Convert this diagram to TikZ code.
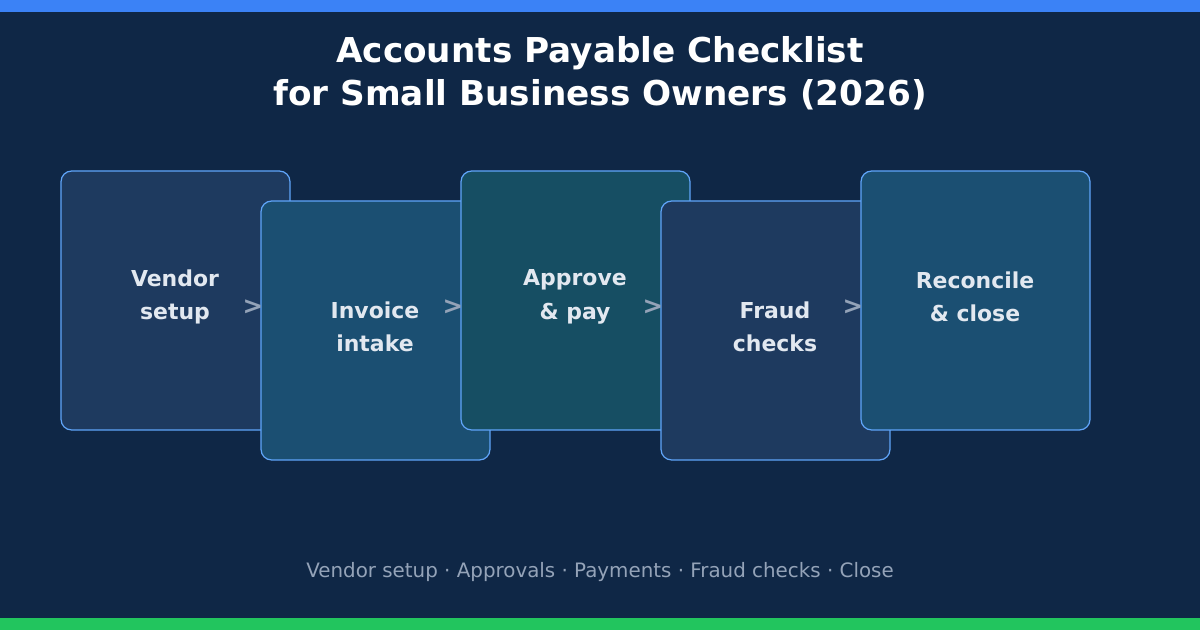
\documentclass[tikz,border=0pt]{standalone}
\usepackage{fontspec}
\setmainfont{DejaVu Sans}
\usetikzlibrary{positioning}
\definecolor{bg_c}{HTML}{0F2746}
\definecolor{top_c}{HTML}{3B82F6}
\definecolor{bot_c}{HTML}{22C55E}
\definecolor{edge_c}{HTML}{60A5FA}
\definecolor{step_a}{HTML}{1E3A5F}
\definecolor{step_b}{HTML}{1B4F72}
\definecolor{step_c}{HTML}{164E63}
\definecolor{txt_c}{HTML}{E2E8F0}
\definecolor{mute_c}{HTML}{94A3B8}
\begin{document}
\begin{tikzpicture}[
			x=0.02cm, y=-0.02cm,
			card/.style = {draw=edge_c, line width=0.7pt, rounded corners=6pt, minimum width=4.58cm, minimum height=5.18cm, inner sep=0pt},
			lbl/.style = {text=txt_c, font=\bfseries\fontsize{12.5}{19}\selectfont, align=center},
			nxt/.style = {text=mute_c, font=\bfseries\fontsize{14}{14}\selectfont},
			]
			% background and bars
			\fill[bg_c] (0,0) rectangle (1200,630);
			\fill[top_c] (0,0) rectangle (1200,12);
			\fill[bot_c] (0,618) rectangle (1200,630);
			\useasboundingbox (0,0) rectangle (1200,630);
			% title
			\node[text=white, font=\bfseries\fontsize{19.5}{24.5}\selectfont, align=center] (title) at (600,73) {Accounts Payable Checklist\\for Small Business Owners (2026)};
			% steps
			\node[card, fill=step_a] (s1) at (175.5,300.5) {};
			\node[card, fill=step_b] (s2) at (375.5,330.5) {};
			\node[card, fill=step_c] (s3) at (575.5,300.5) {};
			\node[card, fill=step_a] (s4) at (775.5,330.5) {};
			\node[card, fill=step_b] (s5) at (975.5,300.5) {};
			\node[lbl] (t1) at (175,297) {Vendor\\setup};
			\node[lbl] (t2) at (375,327) {Invoice\\intake};
			\node[lbl] (t3) at (575,297) {Approve\\\& pay};
			\node[lbl] (t4) at (775,327) {Fraud\\checks};
			\node[lbl] (t5) at (975,297) {Reconcile\\\& close};
			% arrows
			\foreach \i in {1,...,4}
				\node[nxt] (a\i) at (53+200*\i,307) {>};
			% footer
			\node[text=mute_c, font=\fontsize{11.3}{14}\selectfont] (foot) at (600,572) {Vendor setup · Approvals · Payments · Fraud checks · Close};
		\end{tikzpicture}
\end{document}
